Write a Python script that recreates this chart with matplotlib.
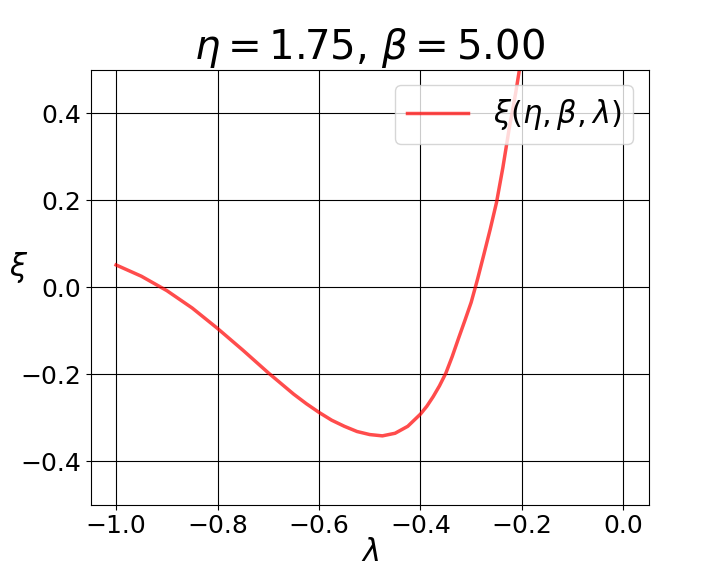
import matplotlib
matplotlib.use('Agg')
import matplotlib.pyplot as plt

# values
lam = [-1.0, -0.95, -0.9, -0.85, -0.8, -0.75, -0.7, -0.65, -0.625, -0.6,
       -0.575, -0.55, -0.525, -0.5, -0.475, -0.45, -0.425, -0.4, -0.3875,
       -0.375, -0.3625, -0.35, -0.3375, -0.325, -0.3125, -0.3, -0.2875,
       -0.275, -0.2625, -0.25, -0.2375, -0.225, -0.2125, -0.2, -0.19]
xi = [0.051, 0.025, -0.008, -0.048, -0.095, -0.145, -0.197, -0.246, -0.268, -0.288,
      -0.306, -0.320, -0.332, -0.339, -0.342, -0.336, -0.320, -0.292, -0.274,
      -0.252, -0.227, -0.198, -0.160, -0.118, -0.077, -0.035, 0.018,
      0.075, 0.133, 0.195, 0.275, 0.365, 0.445, 0.535, 0.60]

xticks = [-1.0, -0.8, -0.6, -0.4, -0.2, 0.0]
yticks = [-0.4, -0.2, 0.0, 0.2, 0.4]

fig = plt.figure(figsize=(7.2, 5.76), dpi=100)
ax = fig.add_axes([0.126, 0.124, 0.775, 0.755])
ax.plot(lam, xi, color='red', alpha=0.7, linewidth=2.5, label=r'$\xi(\eta,\beta,\lambda)$')
ax.set_xlim(-1.05, 0.05)
ax.set_ylim(-0.5, 0.5)
ax.set_xticks(xticks)
ax.set_yticks(yticks)
ax.grid(True, color='black', linewidth=0.8)
ax.tick_params(labelsize=18)
ax.set_xlabel(r'$\lambda$', fontsize=22, labelpad=0)
ax.set_ylabel(r'$\xi$', fontsize=22, rotation=0, va='center', ha='center')
ax.yaxis.set_label_coords(-0.13, 0.545)
ax.set_title(r'$\eta = 1.75$, $\beta = 5.00$', fontsize=29)
ax.legend(loc='upper right', fontsize=22)

fig.savefig('out.png')
